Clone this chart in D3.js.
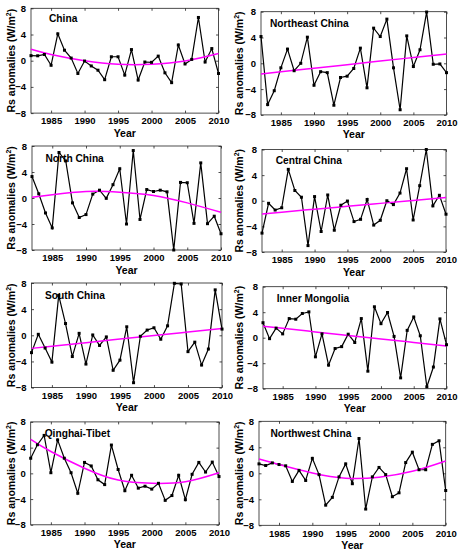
<!DOCTYPE html>
<html>
<head>
<meta charset="utf-8">
<script src="https://cdn.jsdelivr.net/npm/d3@7"></script>
<style>
  html, body { margin: 0; padding: 0; background: #fff; }
  svg { display: block; }
  text { font-family: "Liberation Sans", Arial, sans-serif; font-weight: bold; fill: #000; }
</style>
</head>
<body>
<svg id="chart" width="458" height="550"></svg>
<script>
// ---------- data ----------
const years = [1982,1983,1984,1985,1986,1987,1988,1989,1990,1991,1992,1993,1994,1995,1996,
               1997,1998,1999,2000,2001,2002,2003,2004,2005,2006,2007,2008,2009,2010];
const regions = ["China","Northeast China","North China","Central China",
                 "South China","Inner Mongolia","Qinghai-Tibet","Northwest China"];

const chinaRs     = [0.77,0.75,0.95,-0.7,4.1,1.6,0.4,-1.95,-0.05,-0.8,-1.45,-2.9,0.6,0.6,-2.2,
                     1.7,-2.95,-0.2,-0.25,0.7,-1.85,-3.35,2.4,-0.5,0.2,6.6,-0.2,1.85,-1.95];
const northeastRs = [4.15,-6.4,-4.25,-0.7,2.2,-1.15,0.0,4.05,-3.4,-1.3,-1.45,-6.5,-2.2,-2.0,-0.8,
                     2.35,-3.8,5.45,4.15,6.85,-0.7,-7.2,4.25,-0.5,2.1,7.95,-0.15,-0.1,-1.45];
const northRs     = [3.3,0.65,-2.3,-4.6,7.0,5.7,-0.75,-3.0,-2.55,0.6,1.2,-0.05,2.05,4.5,-4.0,
                     7.3,-3.3,1.3,1.0,1.2,0.95,-8.0,2.4,2.35,-3.9,5.4,-3.95,-2.8,-5.5];
const centralRs   = [-5.05,-0.4,-1.45,-1.1,4.9,1.6,0.55,-7.0,0.65,-4.8,0.9,-4.6,-0.7,-0.05,-3.25,
                     -2.9,0.2,-3.8,-3.05,0.0,-0.6,1.2,5.0,-3.0,2.35,8.0,-0.8,0.85,-2.1];
const southRs     = [-2.65,0.15,-1.95,-4.1,6.1,1.8,-3.25,0.3,-4.4,0.05,-1.55,-0.25,-5.35,-3.8,1.3,
                     -7.25,-0.15,0.8,1.15,-0.6,1.45,7.95,7.85,-2.5,-1.05,-4.55,-2.1,6.95,0.95];
const innerMongRs = [2.35,-0.15,1.5,0.6,3.0,2.9,3.8,4.05,-3.0,0.6,-4.3,-1.7,-1.4,0.55,-0.75,
                     3.0,-5.25,4.85,2.2,3.95,0.2,-6.3,1.15,3.25,0.3,-7.7,-4.6,2.95,-1.1];
const qinghaiRs   = [2.35,4.45,5.9,0.1,5.2,2.35,0.1,-3.1,1.7,1.15,-1.0,-1.75,4.4,0.6,-2.7,
                     -0.3,-2.3,-2.0,-2.45,-1.55,-4.2,-3.45,-0.3,-4.1,-0.15,1.7,0.2,1.75,-0.5];
const northwestRs = [1.45,1.2,1.6,1.35,1.15,-1.25,0.45,-1.1,2.3,-0.2,-4.9,-3.7,-0.55,1.45,-1.6,
                     5.35,-5.5,-0.55,0.9,-0.2,-3.6,-3.0,1.65,3.25,0.55,0.55,4.45,5.0,-2.65];

// trend curves (magenta), read at these years
const fitYears      = [1982,1985,1990,1995,2000,2005,2010];
const chinaFit      = [1.75,0.95,0.0,-0.55,-0.55,-0.05,1.1];
const northeastFit  = [-1.65,-1.32,-0.77,-0.21,0.34,0.9,1.45];
const northFit      = [0.1,0.5,1.0,0.9,0.4,-0.75,-2.2];
const centralFit    = [-2.05,-1.78,-1.32,-0.87,-0.41,0.05,0.5];
const southFit      = [-2.0,-1.67,-1.13,-0.58,-0.04,0.51,1.05];
const innerMongFit  = [1.8,1.47,0.91,0.36,-0.19,-0.75,-1.3];
const qinghaiFit    = [5.3,3.4,0.8,-1.05,-1.55,-1.3,0.1];
const northwestFit  = [2.2,1.35,0.05,-0.75,-0.6,0.3,1.9];

const xTicks = [1985,1990,1995,2000,2005,2010];
const yTicks = [-8,-4,0,4,8];
const xDomain = [1982,2010];
const yDomain = [-8,8];

const seriesList = [chinaRs,northeastRs,northRs,centralRs,southRs,innerMongRs,qinghaiRs,northwestRs];
const fitList    = [chinaFit,northeastFit,northFit,centralFit,southFit,innerMongFit,qinghaiFit,northwestFit];

// ---------- layout (pixel geometry of each panel) ----------
const layout = [
  {x0:31,   x1:218.5, y0:8.3,   y1:113.1, tx:18,   ty:13.8, lx:15},
  {x0:261,  x1:446.5, y0:11.7,  y1:114.9, tx:9,    ty:15,   lx:242.5},
  {x0:32,   x1:221,   y0:146,   y1:250,   tx:13.5, ty:15.7, lx:15},
  {x0:262,  x1:446,   y0:149.5, y1:252,   tx:13.7, ty:14.5, lx:242.5},
  {x0:31.5, x1:222,   y0:283,   y1:387.6, tx:13.5, ty:15.7, lx:15},
  {x0:263,  x1:446.5, y0:286.7, y1:388.7, tx:13.7, ty:15.3, lx:242.5},
  {x0:30.7, x1:219,   y0:421.9, y1:524.8, tx:14,   ty:15.4, lx:15},
  {x0:259,  x1:445.7, y0:421.3, y1:525.3, tx:11.4, ty:15.4, lx:242.5}
];

const svg = d3.select("#chart");

regions.forEach((name, i) => {
  const L = layout[i];
  const x = d3.scaleLinear().domain(xDomain).range([L.x0, L.x1]);
  const y = d3.scaleLinear().domain(yDomain).range([L.y1, L.y0]);
  const g = svg.append("g");

  // frame
  g.append("rect")
    .attr("x", L.x0).attr("y", L.y0)
    .attr("width", L.x1 - L.x0).attr("height", L.y1 - L.y0)
    .attr("fill", "none").attr("stroke", "#222").attr("stroke-width", 0.8);

  // axes (ticks inward on all sides)
  const tk = 2.5;
  const bottom = g.append("g").attr("transform", `translate(0,${L.y1})`)
    .call(d3.axisBottom(x).tickValues(xTicks).tickFormat(d3.format("d")).tickSizeInner(-tk).tickSizeOuter(0).tickPadding(5));
  const top = g.append("g").attr("transform", `translate(0,${L.y0})`)
    .call(d3.axisTop(x).tickValues(xTicks).tickFormat("").tickSizeInner(-tk).tickSizeOuter(0));
  const left = g.append("g").attr("transform", `translate(${L.x0},0)`)
    .call(d3.axisLeft(y).tickValues(yTicks).tickFormat(d3.format("d")).tickSizeInner(-tk).tickSizeOuter(0).tickPadding(5));
  const right = g.append("g").attr("transform", `translate(${L.x1},0)`)
    .call(d3.axisRight(y).tickValues(yTicks).tickFormat("").tickSizeInner(-tk).tickSizeOuter(0));
  [bottom, top, left, right].forEach(a => {
    a.select(".domain").remove();
    a.selectAll(".tick line").attr("stroke", "#222").attr("stroke-width", 0.8);
    a.selectAll("text").attr("font-size", 9.5).attr("font-weight", "bold")
      .attr("font-family", '"Liberation Sans", Arial, sans-serif').attr("fill", "#000");
  });
  bottom.selectAll("text").attr("dy", "0.71em").attr("y", 4.5);

  // data line
  const pts = years.map((yr, j) => [yr, seriesList[i][j]]);
  const line = d3.line().x(d => x(d[0])).y(d => y(d[1]));
  g.append("path").attr("d", line(pts))
    .attr("fill", "none").attr("stroke", "#000").attr("stroke-width", 1.2)
    .attr("stroke-linejoin", "miter");

  // fit curve
  const fpts = fitYears.map((yr, j) => [yr, fitList[i][j]]);
  const fline = d3.line().x(d => x(d[0])).y(d => y(d[1])).curve(d3.curveNatural);
  g.append("path").attr("d", fline(fpts))
    .attr("fill", "none").attr("stroke", "#ff00ff").attr("stroke-width", 1.5);

  // markers
  g.selectAll("rect.m").data(pts).enter().append("rect").attr("class", "m")
    .attr("x", d => x(d[0]) - 1.5).attr("y", d => y(d[1]) - 1.5)
    .attr("width", 3).attr("height", 3).attr("fill", "#000");

  // title
  g.append("text").attr("x", L.x0 + L.tx).attr("y", L.y0 + L.ty)
    .attr("font-size", 10.2).text(name);

  // x label
  g.append("text").attr("x", (L.x0 + L.x1) / 2).attr("y", L.y1 + 23.5)
    .attr("text-anchor", "middle").attr("font-size", 10.5).text("Year");

  // y label
  const cy = (L.y0 + L.y1) / 2;
  const yl = g.append("text")
    .attr("transform", `translate(${L.lx},${cy}) rotate(-90)`)
    .attr("text-anchor", "middle").attr("font-size", 10.5);
  yl.append("tspan").text("Rs anomalies (W/m");
  yl.append("tspan").attr("font-size", 7).attr("dy", -4).text("2");
  yl.append("tspan").attr("dy", 4).text(")");
});
</script>
</body>
</html>
